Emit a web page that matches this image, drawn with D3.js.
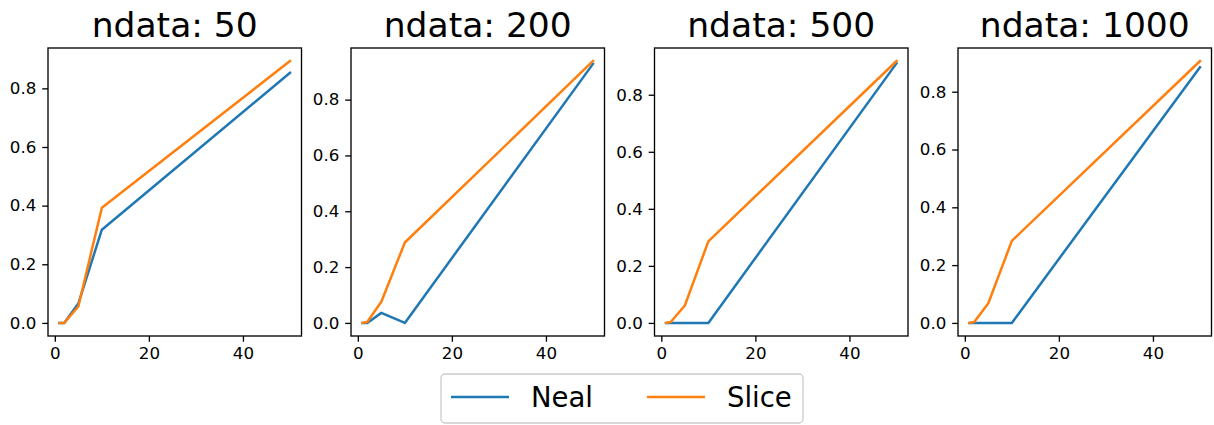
<!DOCTYPE html>
<html><head><meta charset="utf-8">
<script src="https://cdn.jsdelivr.net/npm/d3@7"></script>
<style>body{margin:0;background:#fff}svg{display:block;font-family:"DejaVu Sans",sans-serif}</style>
</head><body><svg id="c" width="1214" height="425"></svg>
<script>
const xs = [1, 2, 5, 10, 50];
const titles = ["ndata: 50", "ndata: 200", "ndata: 500", "ndata: 1000"];
const neal = [
  [0, 0, 0.066, 0.318, 0.853],
  [0, 0, 0.036, 0, 0.928],
  [0, 0, 0, 0, 0.910],
  [0, 0, 0, 0, 0.885]
];
const slice = [
  [0, 0, 0.056, 0.393, 0.893],
  [0, 0.003, 0.076, 0.288, 0.938],
  [0, 0.003, 0.061, 0.286, 0.918],
  [0, 0.003, 0.068, 0.284, 0.906]
];
const xTicks = [0, 20, 40];
const yTicks = [0, 0.2, 0.4, 0.6, 0.8];
const seriesNames = ["Neal", "Slice"];
const colors = ["#1f77b4", "#ff7f0e"];

const svg = d3.select("#c");
const lefts = [48, 351, 654.5, 958];
const W = 253.5, axTop = 48, axBottom = 336;

titles.forEach((t, i) => {
  const L = lefts[i];
  const all = neal[i].concat(slice[i]);
  const ymin = d3.min(all), ymax = d3.max(all);
  const ym = (ymax - ymin) * 0.05;
  const xm = (d3.max(xs) - d3.min(xs)) * 0.05;
  const x = d3.scaleLinear().domain([d3.min(xs) - xm, d3.max(xs) + xm]).range([L, L + W]);
  const y = d3.scaleLinear().domain([ymin - ym, ymax + ym]).range([axBottom, axTop]);
  const g = svg.append("g");
  const line = d3.line().x((d, j) => x(xs[j])).y(d => y(d));
  [neal[i], slice[i]].forEach((s, k) => {
    g.append("path").attr("d", line(s)).attr("fill", "none")
      .attr("stroke", colors[k]).attr("stroke-width", 2.5)
      .attr("stroke-linejoin", "round").attr("stroke-linecap", "square");
  });
  const xa = g.append("g").attr("transform", `translate(0,${axBottom})`)
    .call(d3.axisBottom(x).tickValues(xTicks).tickFormat(d3.format("d")).tickSizeInner(5.8).tickSizeOuter(0).tickPadding(5.8));
  const ya = g.append("g").attr("transform", `translate(${L},0)`)
    .call(d3.axisLeft(y).tickValues(yTicks).tickFormat(d3.format(".1f")).tickSizeInner(5.8).tickSizeOuter(0).tickPadding(5.8));
  [xa, ya].forEach(a => {
    a.select(".domain").remove();
    a.selectAll("line").attr("stroke", "#000").attr("stroke-width", 1.33);
    a.selectAll("text").attr("font-size", 16.7).attr("fill", "#000").attr("font-family", "DejaVu Sans");
  });
  g.append("rect").attr("x", L).attr("y", axTop).attr("width", W).attr("height", axBottom - axTop)
    .attr("fill", "none").attr("stroke", "#000").attr("stroke-width", 1.33);
  g.append("text").attr("x", L + W / 2).attr("y", 37).attr("text-anchor", "middle")
    .attr("font-size", 34.5).attr("fill", "#000").text(t);
});

// legend
const lg = svg.append("g");
lg.append("rect").attr("x", 441).attr("y", 374).attr("width", 362).attr("height", 49).attr("rx", 4)
  .attr("fill", "#fff").attr("fill-opacity", 0.8).attr("stroke", "#cccccc").attr("stroke-width", 1.33);
const lx = [451, 647];
seriesNames.forEach((n, k) => {
  lg.append("line").attr("x1", lx[k]).attr("x2", lx[k] + 58).attr("y1", 397).attr("y2", 397)
    .attr("stroke", colors[k]).attr("stroke-width", 2.5);
  lg.append("text").attr("x", lx[k] + 80).attr("y", 406.5).attr("font-size", 27.5).attr("fill", "#000").text(n);
});
</script></body></html>
